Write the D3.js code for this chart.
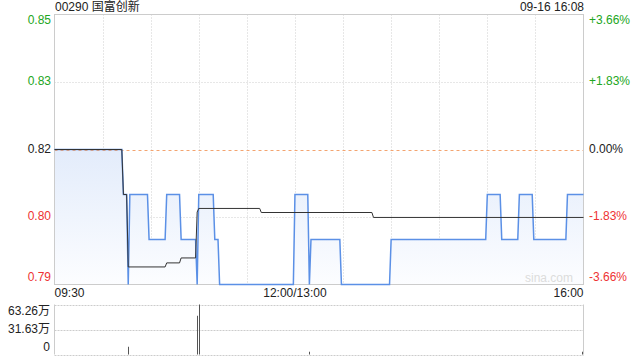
<!DOCTYPE html>
<html>
<head>
<meta charset="utf-8">
<script src="https://cdn.jsdelivr.net/npm/d3@7"></script>
<style>
body { margin: 0; background: #fff; }
text { font-family: "Liberation Sans", Arial, "Noto Sans CJK SC", sans-serif; font-size: 12px; }
</style>
</head>
<body>
<div id="chart"></div>
<script>
var title = '00290 国富创新';
var stamp = '09-16 16:08';
var prevClose = 0.82;

// price line (minute points where it changes)
var priceTimes = ['09:30','10:12','10:13','10:15','10:16','10:17','10:28','10:29','10:39','10:40',
    '10:48','10:49','10:58','10:59','11:00','11:09','11:10','11:12','11:13','11:59',
    '12:00','13:08','13:09','13:10','13:28','13:29','13:59','14:00','14:59','15:00',
    '15:08','15:09','15:19','15:20','15:28','15:29','15:49','15:50','16:00'];
var priceValues = [0.82,0.82,0.81,0.81,0.79,0.81,0.81,0.80,0.80,0.81,
    0.81,0.80,0.80,0.79,0.81,0.81,0.80,0.80,0.79,0.79,
    0.81,0.81,0.79,0.80,0.80,0.79,0.79,0.80,0.80,0.81,
    0.81,0.80,0.80,0.81,0.81,0.80,0.80,0.81,0.81];

// average price line
var avgTimes = ['09:30','10:12','10:13','10:15','10:16','10:39','10:40','10:48','10:49','10:58',
    '10:59','11:00','11:38','11:39','13:48','13:49','16:00'];
var avgValues = [0.82,0.82,0.81,0.81,0.7939,0.7939,0.7948,0.7948,0.7959,0.7959,
    0.8061,0.8069,0.8069,0.8060,0.8060,0.8049,0.8049];

// volume, in 万
var volTimes = ['10:16','10:59','11:00','13:09','15:59'];
var volValues = [9.8, 49, 63.26, 3.5, 3.5];

var priceTicks = [0.79, 0.805, 0.82, 0.835, 0.85];
var priceLabels = ['0.79', '0.80', '0.82', '0.83', '0.85'];
var pctLabels = ['-3.66%', '-1.83%', '0.00%', '+1.83%', '+3.66%'];
var volTicks = [0, 31.63, 63.26];
var volLabels = ['0', '31.63万', '63.26万'];
var timeLabels = ['09:30', '12:00/13:00', '16:00'];

var green = '#22a622', red = '#ee3333';

// minutes of trading since 09:30, lunch break folded out
var toIndex = function(s) {
    var p = s.split('/')[0].split(':');
    var m = (+p[0]) * 60 + (+p[1]);
    if (m >= 13 * 60) return 150 + m - 13 * 60;
    return m - (9 * 60 + 30);
};

var W = 640, H = 360;
var pLeft = 54.5, pRight = 583.5, pTop = 14.5, pBottom = 284.5;
var volTop = 304.5, volBottom = 354.5;

var svg = d3.select('#chart').append('svg')
    .attr('width', W).attr('height', H);

var x = d3.scaleLinear().domain([0, 330]).range([pLeft, pRight]);
var y = d3.scaleLinear().domain([0.79, 0.85]).range([pBottom, pTop]);
var yv = d3.scaleLinear().domain([0, 63.26]).range([volBottom, volTop]);

var colorFor = function(v) {
    if (Math.abs(v - prevClose) < 1e-9) return '#222';
    return v > prevClose ? green : red;
};

// gradient
var grad = svg.append('defs').append('linearGradient')
    .attr('id', 'fillGrad').attr('x1', 0).attr('x2', 0).attr('y1', 0).attr('y2', 1);
grad.append('stop').attr('offset', '0%').attr('stop-color', '#e3ecfb');
grad.append('stop').attr('offset', '100%').attr('stop-color', '#fcfdff');

// vertical grid, every 30 minutes
var vTicks = d3.range(30, 330, 30);
svg.append('g').selectAll('line').data(vTicks).enter().append('line')
    .attr('x1', function(d) { return Math.round(x(d)) + 0.5; })
    .attr('x2', function(d) { return Math.round(x(d)) + 0.5; })
    .attr('y1', pTop).attr('y2', pBottom)
    .attr('stroke', '#cfcfcf').attr('stroke-dasharray', '1,2');

// horizontal grid
svg.append('g').selectAll('line').data([0.805, 0.835]).enter().append('line')
    .attr('x1', pLeft).attr('x2', pRight)
    .attr('y1', function(d) { return Math.round(y(d)) + 0.5; })
    .attr('y2', function(d) { return Math.round(y(d)) + 0.5; })
    .attr('stroke', '#cfcfcf').attr('stroke-dasharray', '1,2');

var priceData = priceTimes.map(function(t, i) { return { i: toIndex(t), v: priceValues[i] }; });
var avgData = avgTimes.map(function(t, i) { return { i: toIndex(t), v: avgValues[i] }; });

svg.append('path').datum(priceData)
    .attr('fill', 'url(#fillGrad)')
    .attr('d', d3.area()
        .x(function(d) { return x(d.i); })
        .y0(pBottom)
        .y1(function(d) { return y(d.v); }));

// prev close dashed line
svg.append('line')
    .attr('x1', pLeft).attr('x2', pRight)
    .attr('y1', Math.round(y(prevClose)) + 0.5).attr('y2', Math.round(y(prevClose)) + 0.5)
    .attr('stroke', '#f3a470').attr('stroke-dasharray', '3,3');

// frame
svg.append('rect')
    .attr('x', pLeft).attr('y', pTop)
    .attr('width', pRight - pLeft).attr('height', pBottom - pTop)
    .attr('fill', 'none').attr('stroke', '#cccccc');

svg.append('text')
    .attr('x', 573).attr('y', 279).attr('text-anchor', 'end')
    .attr('dominant-baseline', 'middle')
    .attr('fill', '#dcdcdc').style('font-size', '12px')
    .text('sina.com');

svg.append('path').datum(priceData)
    .attr('fill', 'none').attr('stroke', '#5b90e6').attr('stroke-width', 1.5)
    .attr('d', d3.line()
        .x(function(d) { return x(d.i); })
        .y(function(d) { return y(d.v); }));

svg.append('path').datum(avgData)
    .attr('fill', 'none').attr('stroke', '#333').attr('stroke-width', 1)
    .attr('d', d3.line()
        .x(function(d) { return x(d.i); })
        .y(function(d) { return y(d.v); }));

// left & right price labels
var labelY = function(i) {
    var yy = y(priceTicks[i]);
    if (i === 0) yy -= 7;
    if (i === priceTicks.length - 1) yy += 6;
    return yy;
};
svg.append('g').selectAll('text').data(priceTicks).enter().append('text')
    .attr('x', 51).attr('y', function(d, i) { return labelY(i); })
    .attr('text-anchor', 'end').attr('dominant-baseline', 'middle')
    .attr('fill', colorFor)
    .text(function(d, i) { return priceLabels[i]; });

svg.append('g').selectAll('text').data(priceTicks).enter().append('text')
    .attr('x', 589).attr('y', function(d, i) { return labelY(i); })
    .attr('dominant-baseline', 'middle')
    .attr('fill', colorFor)
    .text(function(d, i) { return pctLabels[i]; });

// time labels
var anchors = ['start', 'middle', 'end'];
svg.append('g').selectAll('text').data(timeLabels).enter().append('text')
    .attr('x', function(d) { return x(toIndex(d)); })
    .attr('y', 294).attr('dominant-baseline', 'middle')
    .attr('text-anchor', function(d, i) { return anchors[i]; })
    .attr('fill', '#222')
    .text(function(d) { return d; });

// header
svg.append('text').attr('x', 55).attr('y', 8).attr('dominant-baseline', 'middle')
    .attr('fill', '#222').text(title);
svg.append('text').attr('x', 584).attr('y', 8).attr('dominant-baseline', 'middle')
    .attr('text-anchor', 'end').attr('fill', '#222').text(stamp);

// volume panel
svg.append('g').selectAll('line').data(volTicks).enter().append('line')
    .attr('x1', pLeft).attr('x2', pRight)
    .attr('y1', function(d) { return Math.round(yv(d)) + 0.5; })
    .attr('y2', function(d) { return Math.round(yv(d)) + 0.5; })
    .attr('stroke', '#cccccc').attr('stroke-dasharray', '2,1');
svg.append('g').selectAll('line').data([pLeft, pRight]).enter().append('line')
    .attr('x1', function(d) { return d; }).attr('x2', function(d) { return d; })
    .attr('y1', volTop).attr('y2', volBottom)
    .attr('stroke', '#cccccc');

svg.append('g').selectAll('rect').data(volValues).enter().append('rect')
    .attr('x', function(d, i) { return Math.round(x(toIndex(volTimes[i]))); })
    .attr('width', 1)
    .attr('y', function(d) { return yv(d); })
    .attr('height', function(d) { return volBottom - yv(d); })
    .attr('fill', '#555');

var volLabelY = [348, 330, 311.5];
svg.append('g').selectAll('text').data(volTicks).enter().append('text')
    .attr('x', 50).attr('y', function(d, i) { return volLabelY[i]; })
    .attr('text-anchor', 'end').attr('dominant-baseline', 'middle')
    .attr('fill', '#222')
    .text(function(d, i) { return volLabels[i]; });
</script>
</body>
</html>
